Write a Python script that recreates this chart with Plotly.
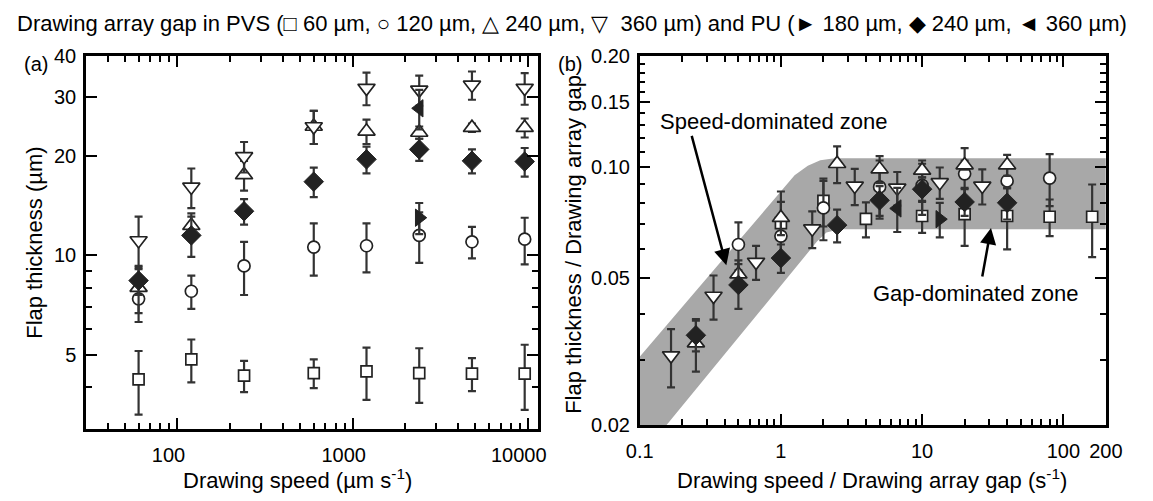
import math
import plotly.graph_objects as go

# ---- data -----------------------------------------------------------------
speed = [60, 120, 240, 600, 1200, 2400, 4800, 9600]          # drawing speed, um/s

# PVS flap thickness (um) and standard deviation per drawing array gap
pvs60 = [4.23, 4.86, 4.34, 4.42, 4.47, 4.42, 4.40, 4.40]
pvs60_sd = [0.92, 0.72, 0.47, 0.44, 0.80, 0.83, 0.50, 0.98]
pvs120 = [7.4, 7.8, 9.3, 10.6, 10.7, 11.5, 11.0, 11.2]
pvs120_sd = [1.1, 0.9, 1.7, 1.9, 1.8, 2.0, 1.2, 1.8]
pvs240 = [8.0, 12.3, 17.5, 24.5, 23.7, 23.5, 24.3, 24.3]
pvs240_sd = [1.3, 1.1, 1.8, 2.8, 2.0, 1.0, 0.7, 1.6]
pvs360 = [11.1, 16.1, 19.9, 24.5, 32.0, 31.6, 32.7, 32.0]
pvs360_sd = [2.0, 2.2, 2.1, 2.8, 3.6, 3.3, 3.2, 3.5]

# PU flap thickness (um)
pu240 = [8.4, 11.5, 13.6, 16.7, 19.5, 20.9, 19.3, 19.2]
pu240_sd = [0.8, 1.6, 1.2, 1.7, 1.8, 1.6, 1.6, 1.9]
pu180_speed = [2400]
pu180 = [13.0]
pu180_sd = [1.4]
pu360_speed = [2400]
pu360 = [27.8]
pu360_sd = [3.8]

# guide band in panel (b): upper edge left->right, lower edge right->left
band_upper_x = [0.1, 1.0, 1.25, 1.55, 1.9, 2.4, 200]
band_upper_y = [0.0306, 0.086, 0.095, 0.1008, 0.1043, 0.1057, 0.1057]
band_lower_x = [200, 2.6, 2.1, 1.8, 0.155, 0.1]
band_lower_y = [0.0678, 0.0678, 0.0665, 0.0628, 0.02, 0.02]

# tick labels
a_xticks = [100, 1000, 10000]
a_xticktext = ["100", "1000", "10000"]
a_yticks = [5, 10, 20, 30, 40]
a_yticktext = ["5", "10", "20", "30", "40"]
b_xticks = [0.1, 1, 10, 100, 200]
b_xticktext = ["0.1", "1", "10", "100", "200"]
b_yticks = [0.02, 0.05, 0.10, 0.15, 0.20]
b_yticktext = ["0.02", "0.05", "0.10", "0.15", "0.20"]

# ---- styling ----------------------------------------------------------------
W, H = 1153, 501
FONT = "Liberation Sans, Arial, sans-serif"
INK = "#222222"
BAR = "#333333"
OPEN = dict(color="white", line=dict(color=INK, width=1.7))
SOLID = dict(color=INK, line=dict(color=INK, width=1))

series = [
    # name, gap (um), x, y, sd, symbol, size, fill
    ("PVS 60 µm", 60, speed, pvs60, pvs60_sd, "square", 11, OPEN),
    ("PVS 120 µm", 120, speed, pvs120, pvs120_sd, "circle", 12, OPEN),
    ("PVS 240 µm", 240, speed, pvs240, pvs240_sd, "triangle-up", 15, OPEN),
    ("PVS 360 µm", 360, speed, pvs360, pvs360_sd, "triangle-down", 15, OPEN),
    ("PU 180 µm", 180, pu180_speed, pu180, pu180_sd, "triangle-right", 15, SOLID),
    ("PU 240 µm", 240, speed, pu240, pu240_sd, "diamond", 15, SOLID),
    ("PU 360 µm", 360, pu360_speed, pu360, pu360_sd, "triangle-left", 15, SOLID),
]

fig = go.Figure()

# grey band (drawn first so the points sit on top)
fig.add_trace(go.Scatter(
    x=band_upper_x + band_lower_x, y=band_upper_y + band_lower_y,
    xaxis="x2", yaxis="y2", mode="lines", fill="toself",
    fillcolor="#a8a8a8", line=dict(width=0, color="#a8a8a8"),
    hoverinfo="skip", showlegend=False))

for name, gap, xs, ys, sd, sym, size, style in series:
    marker = dict(symbol=sym, size=size, color=style["color"], line=style["line"])
    err = dict(type="data", array=sd, visible=True, color=BAR, thickness=2.2, width=4)
    # panel (a): raw values
    fig.add_trace(go.Scatter(x=xs, y=ys, mode="markers", name=name,
                             marker=marker, error_y=err, showlegend=False,
                             xaxis="x", yaxis="y"))
    # panel (b): normalised by the drawing array gap
    nx = [v / gap for v in xs]
    ny = [v / gap for v in ys]
    nsd = [v / gap for v in sd]
    err_b = dict(err, array=nsd)
    fig.add_trace(go.Scatter(x=nx, y=ny, mode="markers", name=name,
                             marker=marker, error_y=err_b, showlegend=False,
                             xaxis="x2", yaxis="y2"))


def minor_vals(lo_exp, hi_exp, lo, hi):
    vals = []
    for e in range(lo_exp, hi_exp + 1):
        for m in range(2, 10):
            v = m * 10 ** e
            if lo < v < hi:
                vals.append(v)
    return vals


def axis(domain, rng, tickvals, ticktext, minor, anchor):
    return dict(
        type="log", domain=domain, range=[math.log10(rng[0]), math.log10(rng[1])],
        anchor=anchor, showgrid=False, zeroline=False,
        showline=True, linecolor="black", linewidth=2.5, mirror="allticks",
        ticks="inside", ticklen=11, tickwidth=2, tickcolor="black",
        tickvals=tickvals, ticktext=ticktext,
        tickfont=dict(family=FONT, size=20, color="black"),
        minor=dict(tickvals=minor, ticks="inside", ticklen=6, tickwidth=1.8,
                   tickcolor="black", showgrid=False),
    )


def px(x):
    return x / W


def py(y):
    return 1 - y / H


xa = axis([px(74), px(538)], [30.06, 11365], a_xticks, a_xticktext,
          minor_vals(1, 3, 30, 11365), "y")
ya = axis([py(437), py(47)], [3, 40], a_yticks, a_yticktext,
          [4, 6, 7, 8, 9], "x")
xb = axis([px(643), px(1122)], [0.1, 200], b_xticks, b_xticktext,
          minor_vals(-1, 1, 0.1, 100), "y2")
yb = axis([py(433), py(47)], [0.02, 0.2], b_yticks, b_yticktext,
          [0.03, 0.04, 0.06, 0.07, 0.08, 0.09] + [0.11 + 0.01 * i for i in range(9)], "x2")
xa["ticklabelstandoff"] = 6
xa["ticklabelshift"] = -9
xb["ticklabelstandoff"] = 6
ya["ticklabelstandoff"] = 3
yb["ticklabelstandoff"] = 3

TXT = dict(family=FONT, size=22, color="black")
annotations = [
    dict(text="Drawing array gap in PVS (□ 60 µm, ○ 120 µm, △ 240 µm, ▽  360 µm) "
              "and PU (► 180 µm, ◆ 240 µm, ◄ 360 µm)",
         x=px(1), y=py(13), xanchor="left", yanchor="middle",
         font=dict(family=FONT, size=22, color="black")),
    dict(text="(a)", x=px(23), y=py(55), xanchor="center", yanchor="middle",
         font=dict(family=FONT, size=20, color="black")),
    dict(text="(b)", x=px(571), y=py(55), xanchor="center", yanchor="middle",
         font=dict(family=FONT, size=20, color="black")),
    dict(text="Flap thickness (µm)", x=px(21), y=py(242), textangle=-90,
         xanchor="center", yanchor="middle", font=TXT),
    dict(text="Drawing speed (µm s<sup>-1</sup>)", x=px(291), y=py(490),
         xanchor="center", yanchor="middle", font=TXT),
    dict(text="Flap thickness / Drawing array gap", x=px(575), y=py(244), textangle=-90,
         xanchor="center", yanchor="middle", font=TXT),
    dict(text="Drawing speed / Drawing array gap (s<sup>-1</sup>)", x=px(882), y=py(490),
         xanchor="center", yanchor="middle", font=TXT),
    dict(text="Speed-dominated zone", x=px(781), y=py(116),
         xanchor="center", yanchor="middle", font=TXT),
    dict(text="Gap-dominated zone", x=px(988), y=py(295),
         xanchor="center", yanchor="middle", font=TXT),
    # arrows
    dict(text="", x=px(732), y=py(266), ax=-35, ay=-131, showarrow=True,
         arrowhead=2, arrowsize=1.3, arrowwidth=2.5, arrowcolor="black"),
    dict(text="", x=px(1004), y=py(227), ax=-9, ay=50, showarrow=True,
         arrowhead=2, arrowsize=1.3, arrowwidth=2.5, arrowcolor="black"),
]
for a in annotations:
    a.setdefault("xref", "paper")
    a.setdefault("yref", "paper")
    a.setdefault("showarrow", False)

fig.update_layout(
    width=W, height=H, margin=dict(l=0, r=0, t=0, b=0),
    paper_bgcolor="white", plot_bgcolor="white",
    xaxis=xa, yaxis=ya, xaxis2=xb, yaxis2=yb,
    annotations=annotations, showlegend=False,
    font=dict(family=FONT, color="black"),
)

# the figure fills the page exactly, so drop the default body margin
fig.write_html("out.html", post_script="document.body.style.margin='0';")
